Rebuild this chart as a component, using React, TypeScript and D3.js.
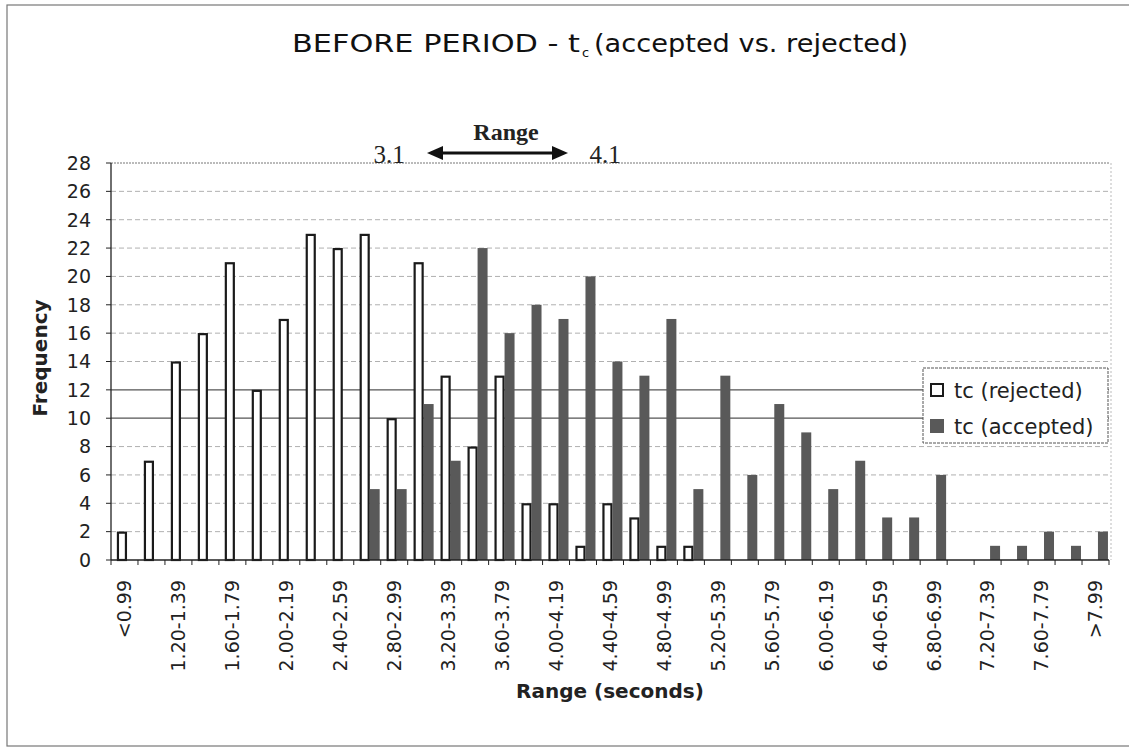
import React from 'react';
import * as d3 from 'd3';

const categories = [
  '<0.99', '1.00-1.19', '1.20-1.39', '1.40-1.59', '1.60-1.79', '1.80-1.99',
  '2.00-2.19', '2.20-2.39', '2.40-2.59', '2.60-2.79', '2.80-2.99', '3.00-3.19',
  '3.20-3.39', '3.40-3.59', '3.60-3.79', '3.80-3.99', '4.00-4.19', '4.20-4.39',
  '4.40-4.59', '4.60-4.79', '4.80-4.99', '5.00-5.19', '5.20-5.39', '5.40-5.59',
  '5.60-5.79', '5.80-5.99', '6.00-6.19', '6.20-6.39', '6.40-6.59', '6.60-6.79',
  '6.80-6.99', '7.00-7.19', '7.20-7.39', '7.40-7.59', '7.60-7.79', '7.80-7.99', '>7.99',
];

const rejected = [
  2, 7, 14, 16, 21, 12, 17, 23, 22, 23, 10, 21, 13, 8, 13, 4, 4, 1, 4, 3, 1, 1,
  0, 0, 0, 0, 0, 0, 0, 0, 0, 0, 0, 0, 0, 0, 0,
];

const accepted = [
  0, 0, 0, 0, 0, 0, 0, 0, 0, 5, 5, 11, 7, 22, 16, 18, 17, 20, 14, 13, 17, 5,
  13, 6, 11, 9, 5, 7, 3, 3, 6, 0, 1, 1, 2, 1, 2,
];

const yTicks = [0, 2, 4, 6, 8, 10, 12, 14, 16, 18, 20, 22, 24, 26, 28];
const seriesKeys = ['rejected', 'accepted'];
const seriesLabels = ['tc (rejected)', 'tc (accepted)'];
const seriesValues = [rejected, accepted];

const FONT = '"DejaVu Sans", sans-serif';
const SERIF = '"Liberation Serif", "DejaVu Serif", serif';

export default function App() {
  const W = 1129;
  const H = 748;
  const left = 111;
  const right = 1109;
  const top = 163;
  const bottom = 560;

  const x0 = d3.scaleBand<string>().domain(categories).range([left, right]).padding(0);
  const x1 = d3
    .scaleBand<string>()
    .domain(seriesKeys)
    .range([0, x0.bandwidth()])
    .paddingInner(0)
    .paddingOuter(0.35)
    .align(0.85);
  const y = d3.scaleLinear().domain([0, 28]).range([bottom, top]);

  const boundaries = categories.map((c) => x0(c) as number).concat([right]);

  return (
    <svg
      width={W}
      height={H}
      style={{ position: 'absolute', left: 0, top: 0, background: '#fff' }}
      fontFamily={FONT}
    >
      <rect x={0} y={0} width={W} height={H} fill="#fff" />
      {/* outer frame */}
      <rect x={7} y={5} width={W} height={741} fill="none" stroke="#777" strokeWidth={1.2} />

      {/* title */}
      <text x={292} y={52} fontSize={25} textLength={288} lengthAdjust="spacingAndGlyphs" fill="#111">
        BEFORE PERIOD - t
      </text>
      <text x={582} y={57} fontSize={13} fill="#111">c</text>
      <text x={594} y={52} fontSize={25} textLength={314} lengthAdjust="spacingAndGlyphs" fill="#111">
        (accepted vs. rejected)
      </text>

      {/* gridlines */}
      {yTicks.filter((t) => t > 0).map((t) => {
        const dark = t === 10 || t === 12;
        return (
          <line
            key={'g' + t}
            x1={left}
            x2={right}
            y1={y(t)}
            y2={y(t)}
            stroke={dark ? '#555' : t === 28 ? '#777' : '#b0b0b0'}
            strokeWidth={dark ? 1.2 : 1}
            strokeDasharray={dark ? undefined : t === 28 ? '2 1' : '5 3'}
          />
        );
      })}
      {/* right plot border */}
      <line x1={right + 2} x2={right + 2} y1={top} y2={bottom} stroke="#bbb" strokeDasharray="2 2" />

      {/* bars */}
      {categories.map((c, i) => (
        <g key={c} transform={`translate(${x0(c)},0)`}>
          {seriesKeys.map((k, si) => {
            const v = seriesValues[si][i];
            if (!v) return null;
            const bx = x1(k) as number;
            const bw = x1.bandwidth();
            if (k === 'rejected') {
              return (
                <rect
                  key={k}
                  x={bx + 1}
                  y={y(v) + 1}
                  width={bw - 2}
                  height={y(0) - y(v) - 1}
                  fill="#fff"
                  stroke="#1a1a1a"
                  strokeWidth={2.2}
                />
              );
            }
            return (
              <rect key={k} x={bx} y={y(v)} width={bw} height={y(0) - y(v)} fill="#595959" />
            );
          })}
        </g>
      ))}

      {/* axes */}
      <line x1={left} x2={left} y1={top} y2={bottom} stroke="#222" strokeWidth={1.3} />
      <line x1={left} x2={right} y1={bottom} y2={bottom} stroke="#222" strokeWidth={1.3} />
      {yTicks.map((t) => (
        <g key={'yt' + t}>
          <line x1={left - 5} x2={left} y1={y(t)} y2={y(t)} stroke="#222" />
          <text x={91} y={y(t)} dy="0.36em" textAnchor="end" fontSize={19} fill="#222">
            {t}
          </text>
        </g>
      ))}
      {boundaries.map((b, i) => (
        <line key={'xt' + i} x1={b} x2={b} y1={bottom} y2={bottom + 5} stroke="#222" />
      ))}
      {categories.map((c, i) =>
        i % 2 === 0 ? (
          <text
            key={'xl' + c}
            transform={`translate(${(x0(c) as number) + x0.bandwidth() / 2},580) rotate(-90)`}
            dy="0.36em"
            textAnchor="end"
            fontSize={19}
            fill="#222"
          >
            {c}
          </text>
        ) : null
      )}

      {/* axis titles */}
      <text
        transform="translate(47,358) rotate(-90)"
        textAnchor="middle"
        fontSize={20}
        fontWeight="bold"
        fill="#222"
      >
        Frequency
      </text>
      <text x={610} y={698} textAnchor="middle" fontSize={20} fontWeight="bold" fill="#222">
        Range (seconds)
      </text>

      {/* range annotation */}
      <text x={506} y={140} textAnchor="middle" fontFamily={SERIF} fontSize={24} fontWeight="bold" fill="#222">
        Range
      </text>
      <text x={389} y={163} textAnchor="middle" fontFamily={SERIF} fontSize={25} fill="#222">
        3.1
      </text>
      <text x={605} y={163} textAnchor="middle" fontFamily={SERIF} fontSize={25} fill="#222">
        4.1
      </text>
      <line x1={438} x2={557} y1={153} y2={153} stroke="#111" strokeWidth={3} />
      <polygon points="427,153 443,146 443,160" fill="#111" />
      <polygon points="568,153 552,146 552,160" fill="#111" />

      {/* legend */}
      <rect x={923} y={368} width={185} height={75} fill="#fff" stroke="#555" strokeWidth={1} strokeDasharray="3 1" />
      {seriesKeys.map((k, i) => (
        <g key={'lg' + k} transform={`translate(930,${383 + i * 36})`}>
          {k === 'rejected' ? (
            <rect x={1} y={1} width={12} height={12} fill="#fff" stroke="#1a1a1a" strokeWidth={2} />
          ) : (
            <rect x={0} y={0} width={14} height={14} fill="#595959" />
          )}
          <text x={24} y={7} dy="0.36em" fontSize={21} fill="#222">
            {seriesLabels[i]}
          </text>
        </g>
      ))}
    </svg>
  );
}
